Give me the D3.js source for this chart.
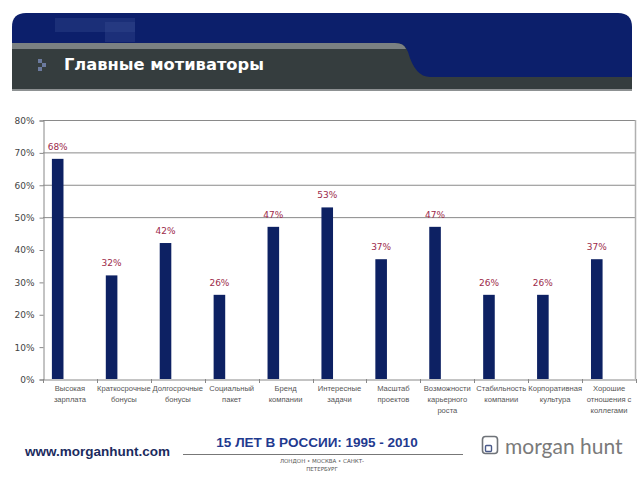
<!DOCTYPE html>
<html>
<head>
<meta charset="utf-8">
<script src="https://cdn.jsdelivr.net/npm/d3@7/dist/d3.min.js"></script>
<style>
  body { margin: 0; background: #fff; }
  svg { display: block; font-family: "DejaVu Sans", Verdana, sans-serif; }
</style>
</head>
<body>
<svg id="chart" width="640" height="480"></svg>
<script>
// данные диаграммы
var categories = [
    "Высокая зарплата",
    "Краткосрочные бонусы",
    "Долгосрочные бонусы",
    "Социальный пакет",
    "Бренд компании",
    "Интересные задачи",
    "Масштаб проектов",
    "Возможности карьерного роста",
    "Стабильность компании",
    "Корпоративная культура",
    "Хорошие отношения с коллегами"
];
var labelLines = [
    ["Высокая", "зарплата"],
    ["Краткосрочные", "бонусы"],
    ["Долгосрочные", "бонусы"],
    ["Социальный", "пакет"],
    ["Бренд", "компании"],
    ["Интересные", "задачи"],
    ["Масштаб", "проектов"],
    ["Возможности", "карьерного", "роста"],
    ["Стабильность", "компании"],
    ["Корпоративная", "культура"],
    ["Хорошие", "отношения с", "коллегами"]
];
var values = [68, 32, 42, 26, 47, 53, 37, 47, 26, 26, 37];
var yTicks = [0, 10, 20, 30, 40, 50, 60, 70, 80];
var gridTicks = [50, 60, 70, 80];

function createChart() {
    var svg = d3.select("#chart");

    // --- шапка ---
    var head = svg.append("g");
    head.append("path")
        .attr("d", "M12,90 L12,27 Q12,13 26,13 L618,13 Q632,13 632,27 L632,90 Z")
        .attr("fill", "#0c1f6b");
    // светлые пятна на синем фоне
    head.append("rect").attr("x", 55).attr("y", 18).attr("width", 80).attr("height", 14)
        .attr("fill", "#2a3f86").attr("opacity", 0.5);
    head.append("rect").attr("x", 105).attr("y", 22).attr("width", 30).attr("height", 20)
        .attr("fill", "#34498e").attr("opacity", 0.4);
    head.append("path")
        .attr("d", "M12,43 L395,43 Q405,43 408,52 Q415,77 430,77 L632,77 L632,90 L12,90 Z")
        .attr("fill", "#353d3e");
    head.append("path")
        .attr("d", "M12,43 L395,43 Q404,43 406,49 L12,49 Z")
        .attr("fill", "#7b8182");
    head.append("rect").attr("x", 12).attr("y", 89).attr("width", 620).attr("height", 2)
        .attr("fill", "#8d9192");
    // маркер-стрелка
    [[38, 59], [42, 63], [38, 67]].forEach(function(p) {
        head.append("rect").attr("x", p[0]).attr("y", p[1]).attr("width", 4).attr("height", 4)
            .attr("fill", "#6b7a9e");
    });
    head.append("text")
        .attr("x", 64).attr("y", 70)
        .attr("fill", "#ffffff")
        .attr("font-size", 16.3).attr("font-weight", "bold")
        .text("Главные мотиваторы");

    // --- диаграмма ---
    var left = 43, right = 636, top = 120, bottom = 379;
    var x = d3.scaleBand().domain(categories).range([left, right]).paddingInner(0).paddingOuter(0);
    var y = d3.scaleLinear().domain([0, 80]).range([bottom, top]);
    var bw = x.bandwidth();

    var g = svg.append("g");

    g.selectAll("line.grid")
        .data(gridTicks)
        .enter()
        .append("line")
            .attr("x1", left).attr("x2", right)
            .attr("y1", function(d) { return y(d) + 0.5; })
            .attr("y2", function(d) { return y(d) + 0.5; })
            .attr("stroke", "#8a8a8a").attr("stroke-width", 1);
    g.append("line")
        .attr("x1", right - 0.5).attr("x2", right - 0.5)
        .attr("y1", top).attr("y2", bottom)
        .attr("stroke", "#b0b0b0").attr("stroke-width", 1.5);

    // ось Y
    var yAxis = g.append("g")
        .attr("transform", "translate(" + (left + 0.5) + ",0.5)")
        .call(d3.axisLeft(y).tickValues(yTicks).tickSize(4).tickPadding(5)
            .tickFormat(function(d) { return d + "%"; }));
    yAxis.select(".domain").attr("stroke", "#888");
    yAxis.selectAll(".tick line").attr("stroke", "#888");
    yAxis.selectAll("text").attr("fill", "#444").attr("font-size", 9)
        .attr("font-family", "'DejaVu Sans', Verdana, sans-serif");

    // ось X
    var xAxis = g.append("g")
        .attr("transform", "translate(0," + (bottom + 0.5) + ")")
        .call(d3.axisBottom(x).tickSize(0).tickFormat(""));
    xAxis.select(".domain").attr("stroke", "#888");
    xAxis.selectAll(".tick text").remove();
    g.selectAll("line.xtick")
        .data(categories.concat([null]))
        .enter()
        .append("line")
            .attr("x1", function(d, i) { return Math.round(left + i * bw) + 0.5; })
            .attr("x2", function(d, i) { return Math.round(left + i * bw) + 0.5; })
            .attr("y1", bottom).attr("y2", bottom + 4)
            .attr("stroke", "#888");

    // подписи категорий
    g.selectAll("text.cat")
        .data(categories)
        .enter()
        .append("text")
            .attr("text-anchor", "middle")
            .attr("font-family", "'Liberation Sans', Arial, sans-serif")
            .attr("font-size", 7.6)
            .attr("fill", "#555")
            .attr("transform", function(d) { return "translate(" + (x(d) + bw / 2) + ",391)"; })
            .each(function(d, i) {
                var t = d3.select(this);
                labelLines[i].forEach(function(line, k) {
                    t.append("tspan").attr("x", 0).attr("dy", k === 0 ? 0 : 11).text(line);
                });
            });

    // столбцы
    g.selectAll("rect.bar")
        .data(values)
        .enter()
        .append("rect")
            .attr("x", function(d, i) { return x(categories[i]) + bw * 0.165; })
            .attr("y", function(d) { return y(d); })
            .attr("width", bw * 0.215)
            .attr("height", function(d) { return bottom - y(d); })
            .attr("fill", "#0d2163");

    // значения
    g.selectAll("text.val")
        .data(values)
        .enter()
        .append("text")
            .attr("x", function(d, i) { return x(categories[i]) + bw * 0.165 + bw * 0.1075; })
            .attr("y", function(d) { return y(d) - 9; })
            .attr("text-anchor", "middle")
            .attr("font-size", 9)
            .attr("fill", "#9c2a4a")
            .text(function(d) { return d + "%"; });

    // --- подвал ---
    var foot = svg.append("g");
    foot.append("text")
        .attr("x", 25).attr("y", 456)
        .attr("font-family", "'Liberation Sans', Arial, sans-serif")
        .attr("font-size", 13.5).attr("font-weight", "bold")
        .attr("fill", "#1b2b5e")
        .text("www.morganhunt.com");
    foot.append("text")
        .attr("x", 317).attr("y", 447)
        .attr("text-anchor", "middle")
        .attr("font-family", "'Liberation Sans', Arial, sans-serif")
        .attr("font-size", 13.5).attr("font-weight", "bold")
        .attr("fill", "#1f3a8f")
        .text("15 ЛЕТ В РОССИИ:  1995 - 2010");
    foot.append("line")
        .attr("x1", 183).attr("x2", 463).attr("y1", 454.5).attr("y2", 454.5)
        .attr("stroke", "#777");
    foot.append("text")
        .attr("x", 322).attr("y", 463)
        .attr("text-anchor", "middle")
        .attr("font-size", 5.5).attr("fill", "#555")
        .text("ЛОНДОН • МОСКВА • САНКТ-");
    foot.append("text")
        .attr("x", 322).attr("y", 471)
        .attr("text-anchor", "middle")
        .attr("font-size", 5.5).attr("fill", "#555")
        .text("ПЕТЕРБУРГ");

    // логотип
    foot.append("rect")
        .attr("x", 482.5).attr("y", 436.5).attr("width", 15).attr("height", 17).attr("rx", 3)
        .attr("fill", "none").attr("stroke", "#6f7379").attr("stroke-width", 1.6);
    foot.append("rect")
        .attr("x", 485.5).attr("y", 445.5).attr("width", 6).attr("height", 6).attr("rx", 1)
        .attr("fill", "none").attr("stroke", "#4a5a8a").attr("stroke-width", 1.4);
    foot.append("text")
        .attr("x", 505).attr("y", 454)
        .attr("font-family", "Lato, 'Open Sans', sans-serif")
        .attr("font-size", 21)
        .attr("fill", "#7a7a7a")
        .text("morgan hunt");
}

createChart();
</script>
</body>
</html>
